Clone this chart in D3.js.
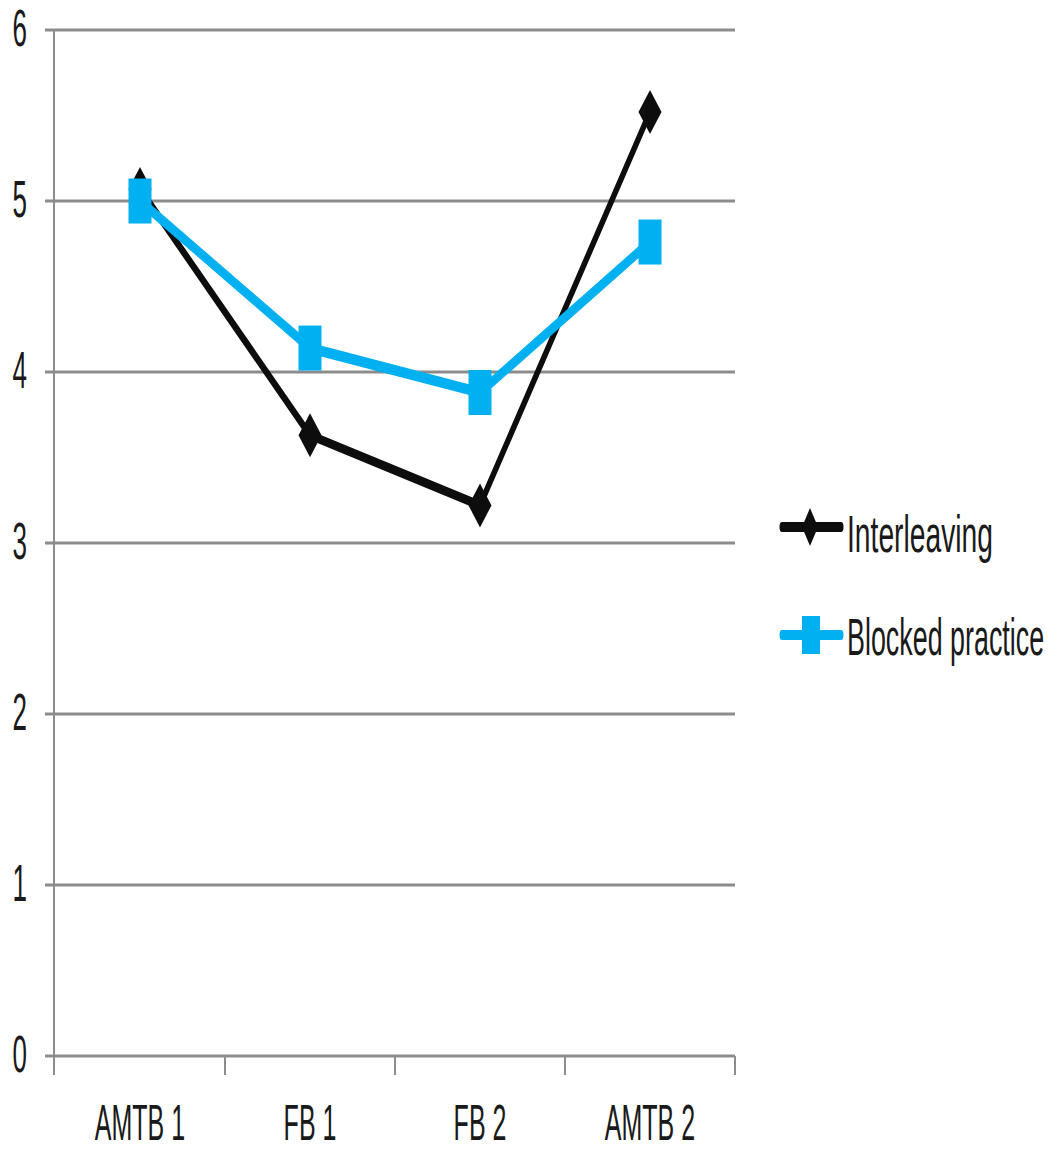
<!DOCTYPE html>
<html>
<head>
<meta charset="utf-8">
<script src="https://cdn.jsdelivr.net/npm/d3@7"></script>
<style>
  html, body { margin: 0; padding: 0; background: #fff; }
  svg { display: block; }
  text { font-family: "Liberation Sans", Arial, sans-serif; fill: #1a1a1a; }
</style>
</head>
<body>
<svg id="chart" width="1053" height="1151"></svg>
<script>
// Test phases along the x axis
const categories = ["AMTB 1", "FB 1", "FB 2", "AMTB 2"];
// Mean scores per condition
const interleaving = [5.07, 3.63, 3.22, 5.52];
const blocked = [5.0, 4.14, 3.88, 4.76];
// Y tick values
const yTicks = [0, 1, 2, 3, 4, 5, 6];
const seriesNames = ["Interleaving", "Blocked practice"];

const svg = d3.select("#chart");
const gray = "#8c8c8c";
const black = "#0d0d0d";
const blue = "#00b0f0";
const sx = 0.5;      // condensed lettering
const stretch = 2;   // vertical stretch of the plotted marks

const x = d3.scaleBand().domain(categories).range([55, 735]).padding(0);
const y = d3.scaleLinear().domain([0, 6]).range([1056, 30]);
// Same scale in the stretched drawing space
const yS = d3.scaleLinear().domain([0, 6]).range([1056 / stretch, 30 / stretch]);
const cx = d => x(d) + x.bandwidth() / 2;

// Horizontal gridlines with short outer ticks
svg.append("g").selectAll("line").data(yTicks).join("line")
  .attr("x1", 45).attr("x2", 735)
  .attr("y1", d => y(d)).attr("y2", d => y(d))
  .attr("stroke", gray).attr("stroke-width", 3);

// Y axis line
svg.append("line")
  .attr("x1", 54).attr("x2", 54).attr("y1", y(6)).attr("y2", 1075)
  .attr("stroke", gray).attr("stroke-width", 2);

// X axis category boundary ticks
const bounds = categories.map(c => x(c)).concat([x(categories[categories.length - 1]) + x.bandwidth()]);
svg.append("g").selectAll("line").data(bounds.slice(1)).join("line")
  .attr("x1", d => d).attr("x2", d => d)
  .attr("y1", y(0)).attr("y2", 1075)
  .attr("stroke", gray).attr("stroke-width", 2);

// Y tick labels
svg.append("g").selectAll("text").data(yTicks).join("text")
  .attr("transform", d => `translate(27,${y(d) + 16}) scale(${sx},1)`)
  .attr("text-anchor", "end")
  .attr("font-size", 52)
  .text(d => d);

// X category labels
svg.append("g").selectAll("text").data(categories).join("text")
  .attr("transform", d => `translate(${cx(d)},1140) scale(${sx},1)`)
  .attr("text-anchor", "middle")
  .attr("font-size", 50)
  .text(d => d);

// Series and markers drawn in a vertically stretched space
const plot = svg.append("g").attr("transform", `scale(1,${stretch})`);
const line = d3.line().x(d => cx(d.c)).y(d => yS(d.v));
const toPts = vals => vals.map((v, i) => ({ c: categories[i], v }));
const diamond = (w, h) => `M0,${-h / 2}L${w / 2},0L0,${h / 2}L${-w / 2},0Z`;

// Interleaving series
plot.append("path").datum(toPts(interleaving))
  .attr("d", line).attr("fill", "none")
  .attr("stroke", black).attr("stroke-width", 4.6).attr("stroke-linejoin", "round");
plot.append("g").selectAll("path").data(toPts(interleaving)).join("path")
  .attr("transform", d => `translate(${cx(d.c)},${yS(d.v)})`)
  .attr("d", diamond(23, 22)).attr("fill", black);

// Blocked practice series
plot.append("path").datum(toPts(blocked))
  .attr("d", line).attr("fill", "none")
  .attr("stroke", blue).attr("stroke-width", 5.4).attr("stroke-linejoin", "round");
plot.append("g").selectAll("rect").data(toPts(blocked)).join("rect")
  .attr("x", d => cx(d.c) - 11.5).attr("y", d => yS(d.v) - 11.25)
  .attr("width", 23).attr("height", 22.5).attr("fill", blue);

// Legend
const legendRows = [
  { name: seriesNames[0], color: black, width: 5, ly: 527, ty: 552, scale: 0.543, marker: "diamond" },
  { name: seriesNames[1], color: blue, width: 5, ly: 635, ty: 655, scale: 0.517, marker: "square" }
];
const legendMarks = svg.append("g").attr("transform", `scale(1,${stretch})`);
const legendText = svg.append("g");
legendRows.forEach(r => {
  const my = r.ly / stretch;
  legendMarks.append("line")
    .attr("x1", 782).attr("x2", 841).attr("y1", my).attr("y2", my)
    .attr("stroke", r.color).attr("stroke-width", r.width).attr("stroke-linecap", "round");
  if (r.marker === "diamond") {
    legendMarks.append("path").attr("transform", `translate(810,${my})`)
      .attr("d", diamond(16, 19)).attr("fill", r.color);
  } else {
    legendMarks.append("rect").attr("x", 802).attr("y", my - 9.5)
      .attr("width", 18).attr("height", 19).attr("fill", r.color);
  }
  legendText.append("text")
    .attr("transform", `translate(847,${r.ty}) scale(${r.scale},1)`)
    .attr("font-size", 52)
    .text(r.name);
});
</script>
</body>
</html>
